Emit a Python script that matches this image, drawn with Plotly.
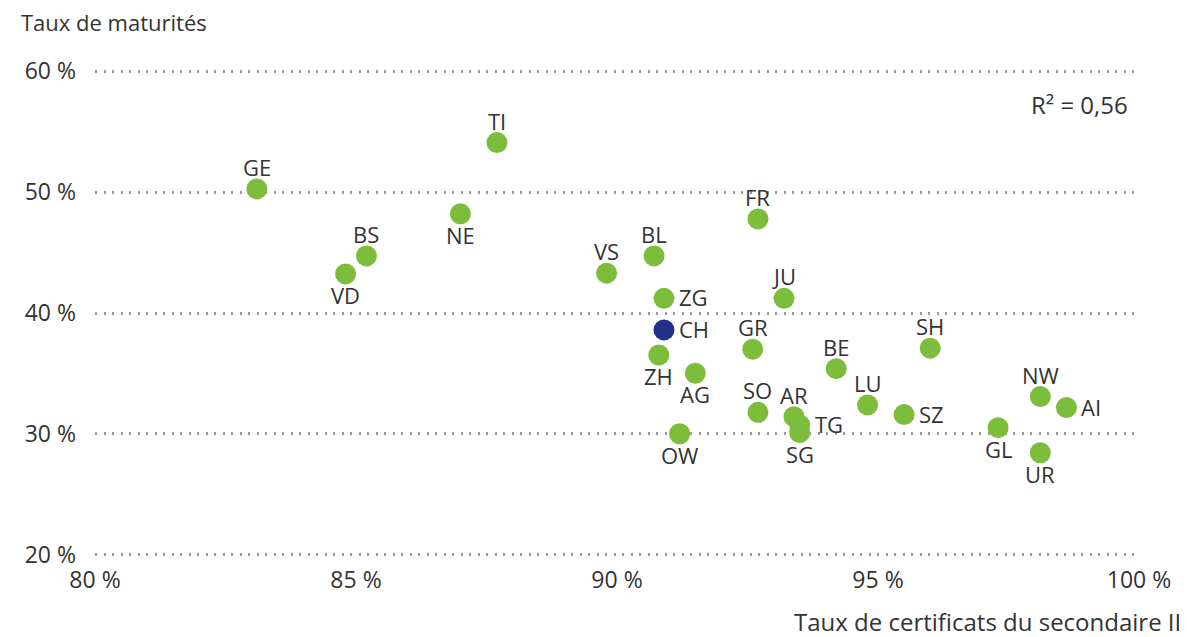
import plotly.graph_objects as go

cantons = ["GE", "TI", "NE", "BS", "VD", "VS", "BL", "FR", "ZG", "JU", "GR", "ZH",
           "AG", "BE", "SH", "SO", "AR", "TG", "SG", "LU", "SZ", "OW", "GL", "NW", "AI", "UR"]
secondaire = [83.10, 87.70, 87.00, 85.20, 84.80, 89.80, 90.71, 92.70, 90.90, 93.20, 92.60, 90.80,
              91.50, 94.20, 96.00, 92.70, 93.39, 93.50, 93.50, 94.80, 95.50, 91.20, 97.30, 98.11, 98.61, 98.11]
maturites = [50.26, 54.09, 48.20, 44.72, 43.23, 43.29, 44.72, 47.78, 41.21, 41.21, 37.01, 36.53,
             35.02, 35.40, 37.09, 31.79, 31.43, 30.74, 30.11, 32.40, 31.60, 30.02, 30.52, 33.09, 32.18, 28.45]
label_side = ["top", "top", "bottom", "top", "bottom", "top", "top", "top", "right", "top", "top", "bottom",
              "bottom", "top", "top", "top", "top", "right", "bottom", "top", "right", "bottom", "bottom",
              "top", "right", "bottom"]

ch_name = ["CH"]
ch_secondaire = [90.90]
ch_maturites = [38.60]
ch_side = ["right"]

x_ticks = [80, 85, 90, 95, 100]
x_ticktext = ["80 %", "85 %", "90 %", "95 %", "100 %"]
y_ticks = [20, 30, 40, 50, 60]
y_ticktext = ["20 %", "30 %", "40 %", "50 %", "60 %"]
r2_text = "R² = 0,56"

FONT = "Open Sans"
TXT = "#333333"
GREEN = "#7dbd3c"
NAVY = "#23308a"

fig = go.Figure()
fig.add_trace(go.Scatter(
    x=secondaire, y=maturites, mode="markers", text=cantons, cliponaxis=False,
    marker=dict(size=21, color=GREEN, line=dict(width=0)),
    hoverinfo="text", showlegend=False))
fig.add_trace(go.Scatter(
    x=ch_secondaire, y=ch_maturites, mode="markers", text=ch_name, cliponaxis=False,
    marker=dict(size=21, color=NAVY, line=dict(width=0)),
    hoverinfo="text", showlegend=False))

SIDE = {
    "top": dict(xanchor="center", yanchor="middle", xshift=0, yshift=22),
    "bottom": dict(xanchor="center", yanchor="middle", xshift=0, yshift=-21),
    "right": dict(xanchor="left", yanchor="middle", xshift=13, yshift=1),
}

annotations = []
for names, xs, ys, sides in [(cantons, secondaire, maturites, label_side),
                             (ch_name, ch_secondaire, ch_maturites, ch_side)]:
    for n, x, y, s in zip(names, xs, ys, sides):
        annotations.append(dict(text=n, x=x, y=y, xref="x", yref="y", showarrow=False,
                                font=dict(family=FONT, size=22, color=TXT), **SIDE[s]))

# page body has an 8px default margin: figure is 8px smaller, margins shifted
PH = 496  # plot height in px for range 19.5..60.5
annotations += [
    dict(text="Taux de maturités", xref="paper", yref="paper", x=-75/1044, y=1 + 43/PH,
         xanchor="left", yanchor="middle", showarrow=False, borderpad=0,
         font=dict(family=FONT, size=22, color=TXT)),
    dict(text="Taux de certificats du secondaire II", xref="paper", yref="paper",
         x=1 + 43/1044, y=-60/PH, xanchor="right", yanchor="middle", showarrow=False,
         borderpad=0, font=dict(family=FONT, size=24, color=TXT)),
    dict(text=r2_text, xref="paper", yref="paper", x=1 - 9/1044, y=1 - 39/PH,
         xanchor="right", yanchor="middle", showarrow=False,
         font=dict(family=FONT, size=24, color=TXT)),
]

fig.update_layout(
    width=1179, height=629,
    margin=dict(l=87, r=48, t=57, b=629 - 57 - PH),
    plot_bgcolor="white", paper_bgcolor="white",
    font=dict(family=FONT, size=23, color=TXT),
    xaxis=dict(range=[80, 100], tickvals=x_ticks, ticktext=x_ticktext,
               showgrid=False, zeroline=False, showline=False, ticks="",
               ticklabelstandoff=3, tickfont=dict(size=23, color=TXT)),
    yaxis=dict(range=[19.5, 60.5], tickvals=y_ticks, ticktext=y_ticktext,
               showgrid=True, gridcolor="#9a9a9a", gridwidth=2.5, griddash="2px,6.5px",
               zeroline=False, showline=False, ticks="",
               ticklabelstandoff=18, tickfont=dict(size=23, color=TXT)),
    annotations=annotations,
)

fig.write_html("out.html")
